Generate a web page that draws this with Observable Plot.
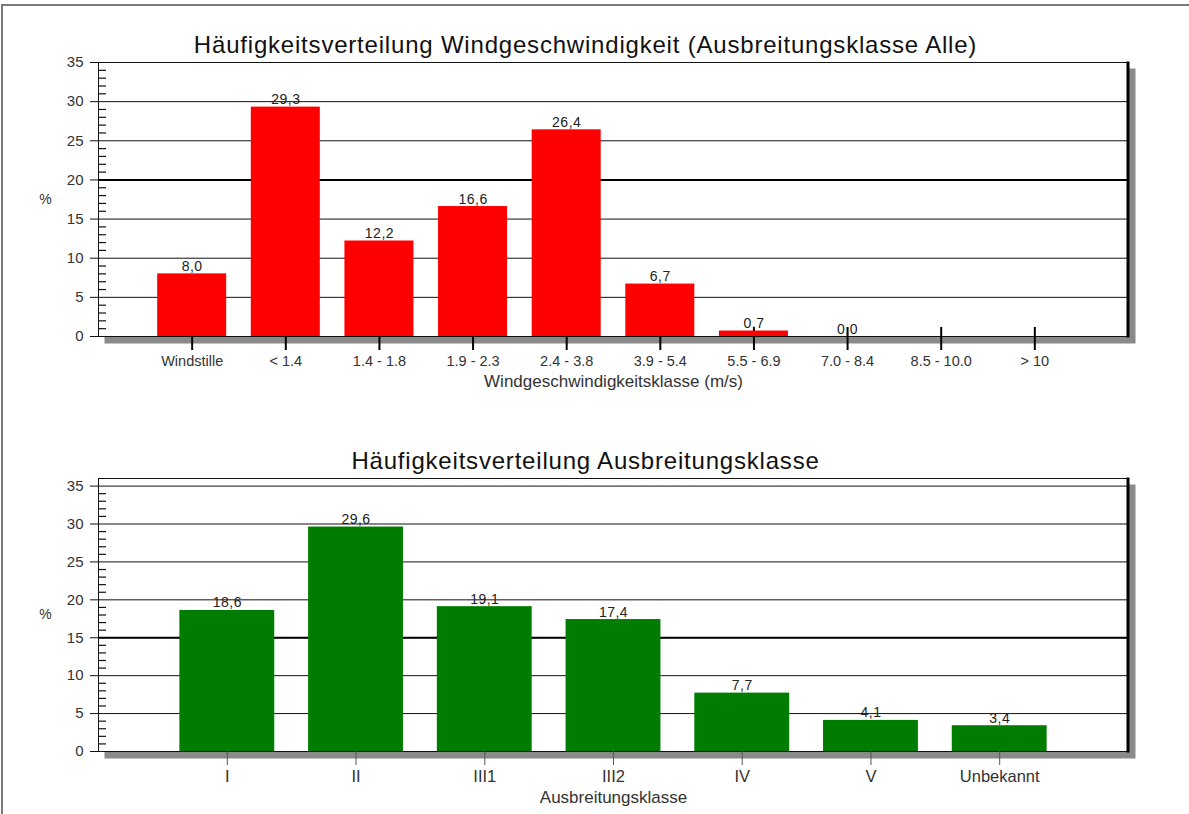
<!DOCTYPE html>
<html>
<head>
<meta charset="utf-8">
<script src="https://cdn.jsdelivr.net/npm/d3@7"></script>
<script src="https://cdn.jsdelivr.net/npm/@observablehq/plot@0.6"></script>
<style>
  html, body { margin: 0; padding: 0; background: #fff; }
  #page { position: relative; width: 1189px; height: 814px; overflow: hidden; font-family: "Liberation Sans", Arial, sans-serif; }
  #border { position: absolute; left: 1px; top: 4px; width: 1300px; height: 900px; border-left: 2px solid #7a7a7a; border-top: 2px solid #7a7a7a; }
  .chart { position: absolute; left: 0; }
  .chart svg { overflow: visible; }
</style>
</head>
<body>
<div id="page">
  <div id="border"></div>
  <div id="c1" class="chart" style="top:0px"></div>
  <div id="c2" class="chart" style="top:400px"></div>
</div>
<script>
// ---- Data ----
const windClasses = ["Windstille", "< 1.4", "1.4 - 1.8", "1.9 - 2.3", "2.4 - 3.8", "3.9 - 5.4", "5.5 - 6.9", "7.0 - 8.4", "8.5 - 10.0", "> 10"];
const windValues = [8.0, 29.3, 12.2, 16.6, 26.4, 6.7, 0.7, 0.0];   // no values for the last two classes

const stabClasses = ["I", "II", "III1", "III2", "IV", "V", "Unbekannt"];
const stabValues = [18.6, 29.6, 19.1, 17.4, 7.7, 4.1, 3.4];

const yTicks = [0, 5, 10, 15, 20, 25, 30, 35];
const minorTicks = d3.range(1, 36).filter(v => v % 5 !== 0);

const title1 = "Häufigkeitsverteilung Windgeschwindigkeit (Ausbreitungsklasse Alle)";
const xLabel1 = "Windgeschwindigkeitsklasse (m/s)";
const title2 = "Häufigkeitsverteilung Ausbreitungsklasse";
const xLabel2 = "Ausbreitungsklasse";
const yLabel = "%";

const fmt = v => v.toFixed(1).replace(".", ",");

function chart({cats, values, color, yMax, height, marginTop, marginBottom, title, titleDy, xLabel, xLabelDy, xFont, thickLine, tickStroke, tickWidth, upperTicks}) {
  const data = values.map((v, i) => ({cat: cats[i], value: v}));
  const frameW = 1189 - 98 - 61;
  const frameH = height - marginTop - marginBottom;
  const marks = [
    // drop shadow
    Plot.frame({fill: "#8a8a8a", insetLeft: 6, insetTop: 6, insetRight: -7, insetBottom: -7}),
    Plot.frame({fill: "white"}),
    // gridlines
    Plot.ruleY(yTicks, {stroke: "#111", strokeWidth: 1}),
    Plot.ruleY([thickLine], {stroke: "#000", strokeWidth: 2}),
    // minor ticks inside the y axis
    Plot.ruleY(minorTicks, {stroke: "#111", strokeWidth: 1.2, insetRight: frameW - 8}),
  ];
  if (upperTicks) {
    marks.push(Plot.ruleX(cats, {stroke: tickStroke, strokeWidth: tickWidth, insetTop: frameH - 9}));
  }
  marks.push(
    Plot.barY(data, {x: "cat", y: "value", fill: color}),
    Plot.text(data, {x: "cat", y: "value", text: d => fmt(d.value), lineAnchor: "bottom", dy: -3, fontSize: 14, fill: "#222", className: "barlabel"}),
    Plot.frame({stroke: "#111", strokeWidth: 1}),
    Plot.frame({stroke: "#000", strokeWidth: 2, insetLeft: frameW - 1}),
    Plot.axisY({ticks: yTicks, tickSize: 8, tickPadding: 7, fontSize: 15, fill: "#333", stroke: "#111", label: null, tickFormat: d => d}),
    Plot.axisX({tickSize: 14, tickPadding: 5, fontSize: xFont, fill: "#333", stroke: tickStroke, strokeWidth: tickWidth, label: null}),
    Plot.text([title], {frameAnchor: "top", text: d => d, textAnchor: "middle", lineAnchor: "middle", dx: -28, dy: titleDy, fontSize: 24, fill: "#111", className: "charttitle"}),
    Plot.text([xLabel], {frameAnchor: "bottom", text: d => d, textAnchor: "middle", lineAnchor: "middle", dy: xLabelDy, fontSize: 17, fill: "#333"}),
    Plot.text([yLabel], {frameAnchor: "left", text: d => d, textAnchor: "middle", lineAnchor: "middle", dx: -53, fontSize: 14, fill: "#333"})
  );
  const svg = Plot.plot({
    width: 1189,
    height,
    marginLeft: 98,
    marginRight: 61,
    marginTop,
    marginBottom,
    style: {fontFamily: "'Liberation Sans', Arial, sans-serif", background: "transparent", overflow: "visible"},
    x: {type: "band", domain: cats, paddingInner: 0.263, paddingOuter: 0.632, align: 0.5, round: false},
    y: {domain: [0, yMax]},
    marks
  });
  // slightly wider letter spacing, as in the original rendering
  d3.select(svg).selectAll("text").filter(function () { return this.textContent === title; })
    .style("letter-spacing", "0.8px");
  d3.select(svg).selectAll("text").filter(function () { return /^\d+,\d$/.test(this.textContent); })
    .style("letter-spacing", "0.5px");
  return svg;
}

document.getElementById("c1").appendChild(chart({
  cats: windClasses, values: windValues, color: "#ff0000", yMax: 35,
  height: 400, marginTop: 62, marginBottom: 64,
  title: title1, titleDy: -17, xLabel: xLabel1, xLabelDy: 45, xFont: 14.5,
  thickLine: 20, tickStroke: "#000", tickWidth: 2, upperTicks: true
}));

document.getElementById("c2").appendChild(chart({
  cats: stabClasses, values: stabValues, color: "#007d00", yMax: 36,
  height: 414, marginTop: 78, marginBottom: 63,
  title: title2, titleDy: -17, xLabel: xLabel2, xLabelDy: 46, xFont: 16.5,
  thickLine: 15, tickStroke: "#555", tickWidth: 1, upperTicks: false
}));
</script>
</body>
</html>
